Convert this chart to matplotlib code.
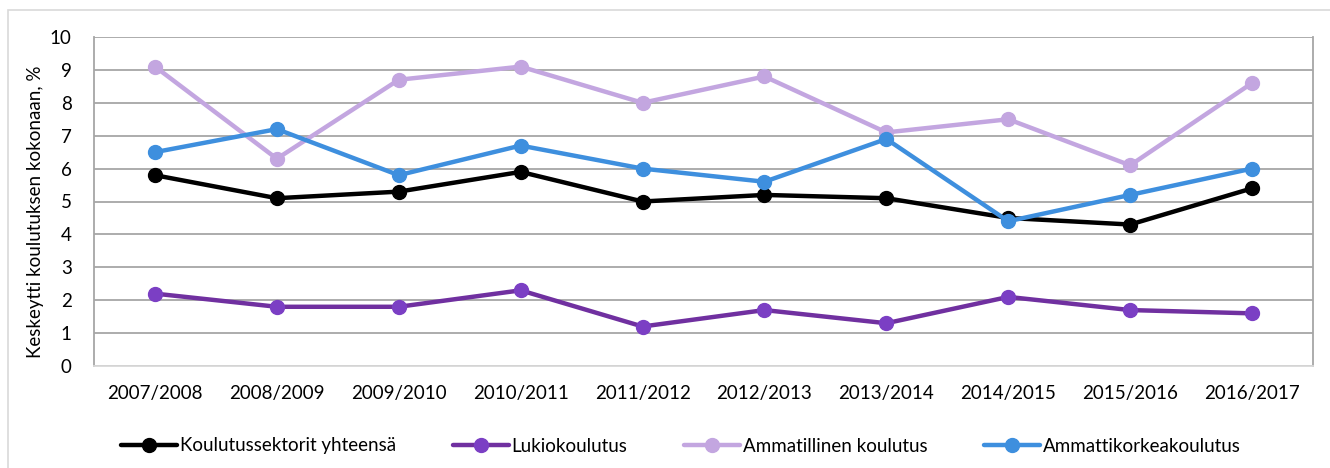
import matplotlib.pyplot as plt
from matplotlib.patches import Rectangle

plt.rcParams['font.family'] = ['Lato', 'DejaVu Sans']

vuodet = ['2007/2008', '2008/2009', '2009/2010', '2010/2011', '2011/2012',
          '2012/2013', '2013/2014', '2014/2015', '2015/2016', '2016/2017']
yhteensa = [5.8, 5.1, 5.3, 5.9, 5.0, 5.2, 5.1, 4.5, 4.3, 5.4]
lukio = [2.2, 1.8, 1.8, 2.3, 1.2, 1.7, 1.3, 2.1, 1.7, 1.6]
ammatillinen = [9.1, 6.3, 8.7, 9.1, 8.0, 8.8, 7.1, 7.5, 6.1, 8.6]
amk = [6.5, 7.2, 5.8, 6.7, 6.0, 5.6, 6.9, 4.4, 5.2, 6.0]

sarjat = [
    ('Koulutussektorit yhteensä', yhteensa, '#000000', '#000000'),
    ('Lukiokoulutus', lukio, '#7030A0', '#7B3FC4'),
    ('Ammatillinen koulutus', ammatillinen, '#C3A6E0', '#C3A6E0'),
    ('Ammattikorkeakoulutus', amk, '#3E8FDE', '#3E8FDE'),
]

W, H = 1330, 468
fs = 13.5
fig = plt.figure(figsize=(W / 100, H / 100), dpi=100)
ax = fig.add_axes([94 / W, 1 - 366 / H, (1313 - 94) / W, (366 - 37) / H])

x = range(len(vuodet))
for nimi, arvot, vari, mvari in sarjat:
    ax.plot(x, arvot, color=vari, lw=3.2, marker='o', ms=10,
            mfc=mvari, mec=mvari, label=nimi, solid_capstyle='round')

ax.set_xlim(-0.5, len(vuodet) - 0.5)
ax.set_ylim(0, 10)
ax.set_yticks(range(0, 11))
ax.set_xticks(list(x))
ax.set_xticklabels(vuodet)
ax.yaxis.grid(True, color='#A6A6A6', lw=1.3)
ax.set_axisbelow(True)
ax.tick_params(length=0, labelsize=fs, colors='#000000')
ax.tick_params(axis='x', pad=14)
ax.tick_params(axis='y', pad=16)
for s in ['left', 'right']:
    ax.spines[s].set_color('#A6A6A6')
    ax.spines[s].set_linewidth(1.3)
ax.spines['top'].set_visible(False)
ax.spines['bottom'].set_color('#D9D9D9')
ax.spines['bottom'].set_linewidth(1.3)
ax.set_ylabel('Keskeytti koulutuksen kokonaan, %', fontsize=fs)
ax.yaxis.set_label_coords(-0.041, 0.47)

fig.legend(loc='center', bbox_to_anchor=(0.512, 1 - 446 / H), ncol=4,
           frameon=False, fontsize=fs, handlelength=3.0, handletextpad=0.15,
           columnspacing=3.0)

fig.patches.append(Rectangle((8 / W, -0.1), 1.2, 1 - 10 / H + 0.1,
                             transform=fig.transFigure, fill=False,
                             ec='#D9D9D9', lw=1.2))

fig.savefig('out.png', dpi=100)
